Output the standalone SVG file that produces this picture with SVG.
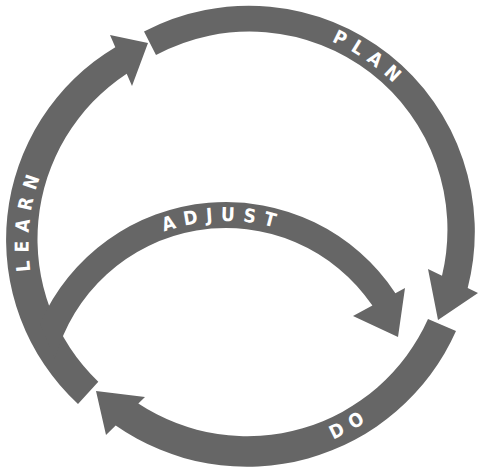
<svg xmlns="http://www.w3.org/2000/svg" width="479" height="472" viewBox="0 0 479 472">
<style>
.arr{fill:#666666;stroke:none}
.lbl{fill:#ffffff;font-family:"Liberation Sans Narrow","DejaVu Sans Condensed","Liberation Sans",sans-serif;font-weight:bold;font-size:19px;letter-spacing:8px}
</style>
<defs>
<path id="tpPlan" d="M 213.14 27.64 A 206 206 0 0 1 452.36 195.14"/>
<path id="tpAdjust" d="M 93.64 277.18 A 184 184 0 0 1 353.82 272.64"/>
<path id="tpLearn" d="M 75.3 372.2 A 199 199 0 0 1 110.8 82.8"/>
<path id="tpDo" d="M 186.64 448.52 A 219 219 0 0 0 457.52 298.36"/>
</defs>
<g id="connectors">
<g id="plan">
<path class="arr" d="M 144 31.5 A 226 226 0 0 1 467.7 288 L 478 293 L 438 320 L 428 269 L 442 275.7 A 198 198 0 0 0 156 55 Z"/>
<text class="lbl"><textPath href="#tpPlan" startOffset="50%" text-anchor="middle">PLAN</textPath></text>
</g>
<g id="do">
<path class="arr" d="M 456 331 A 229 229 0 0 1 115.7 425.5 L 106 435 L 96 391 L 145 397 L 138.3 403.5 A 198 198 0 0 0 428 319 Z"/>
<text class="lbl"><textPath href="#tpDo" startOffset="50%" text-anchor="middle">DO</textPath></text>
</g>
<g id="learn">
<path class="arr" d="M 78 404 A 224 224 0 0 1 115.3 47.2 L 110 35 L 148 43 L 132 86 L 126.7 73.8 A 197.7 197.7 0 0 0 98.3 381.7 Z"/>
<text class="lbl"><textPath href="#tpLearn" startOffset="50%" text-anchor="middle">LEARN</textPath></text>
</g>
<g id="adjust">
<path class="arr" d="M 40 323.7 A 203 203 0 0 1 395.4 293.2 L 405 288 L 398 337 L 353 316 L 372.4 305.6 A 177 177 0 0 0 55 359.3 Z"/>
<text class="lbl"><textPath href="#tpAdjust" startOffset="50%" text-anchor="middle">ADJUST</textPath></text>
</g>
</g>
</svg>
